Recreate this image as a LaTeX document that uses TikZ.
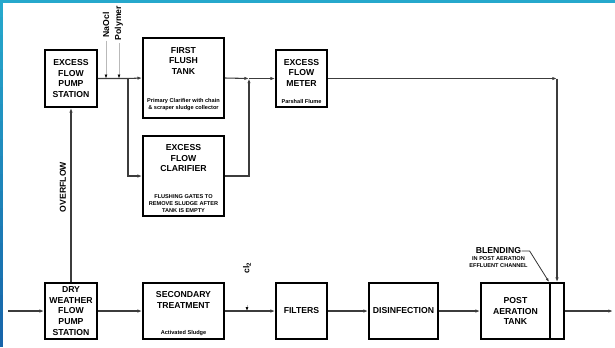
\documentclass[tikz,border=0pt]{standalone}
\usepackage{fontspec}
\setmainfont{Liberation Sans}
\usetikzlibrary{arrows.meta,positioning}

\definecolor{frametop}{RGB}{38,168,204}
\definecolor{framebot}{RGB}{22,98,168}
\definecolor{pipe}{RGB}{60,60,60}

\newcommand\flowtitle{\fontsize{6.5}{8}\selectfont\bfseries}
\newcommand\flownote{\fontsize{4.2}{5.3}\selectfont\bfseries}

\tikzset{every picture/.style={line width=0.75pt}}
\tikzset{
  box/.style={draw=black, line width=1.3pt, inner sep=0pt, align=center, font=\flowtitle},
  title/.style={inner sep=0pt, align=center, font=\flowtitle},
  note/.style={inner sep=0pt, align=center, font=\flownote},
  flow/.style={draw=pipe, line width=0.8pt, -{Latex[length=3.5pt,width=2.5pt]}},
  dose/.style={draw=gray!55, line width=0.5pt, shorten <=2pt, -{Latex[length=3pt,width=2.2pt,color=black]}},
  lead/.style={draw=black!80, line width=0.6pt, -{Latex[length=3pt,width=2pt]}}
}

\begin{document}
\begin{tikzpicture}[x=0.75pt,y=0.75pt,yscale=-1,xscale=1]
\useasboundingbox (0,0) rectangle (615,347);

%Shape: Frame
\fill[frametop] (0,0) rectangle (615,2.5);
\foreach \i in {0,...,19}{
  \pgfmathtruncatemacro\p{\i*5}
  \fill[framebot!\p!frametop] (0,\i*17.35) rectangle (2.5,\i*17.35+17.6);
}

%Shape: Boxes, excess flow line
\node[box, minimum width=39pt, minimum height=42.75pt] (efps) at (71,78.5) {EXCESS\\FLOW\\PUMP\\STATION};
\node[box, minimum width=60.75pt, minimum height=60pt] (fft) at (183.5,78) {};
\node[box, minimum width=38.25pt, minimum height=42.75pt] (meter) at (301.5,78.5) {};
\node[box, minimum width=60.75pt, minimum height=60pt] (clar) at (183.5,176) {};

%Shape: Boxes, dry weather line
\node[box, minimum width=39pt, minimum height=42pt] (dwfps) at (71,311) {DRY\\WEATHER\\FLOW\\PUMP\\STATION};
\node[box, minimum width=60.75pt, minimum height=42pt] (sec) at (183.5,311) {};
\node[box, minimum width=38.25pt, minimum height=42pt] (filt) at (301.5,311) {FILTERS};
\node[box, minimum width=51.75pt, minimum height=42pt] (dis) at (403.5,311) {DISINFECTION};
\node[box, minimum width=51.75pt, minimum height=42pt] (post) at (515.5,311) {POST\\AERATION\\TANK};
\node[box, minimum width=10.5pt, minimum height=42pt] (chan) at (557,311) {};

% Text Node
\node[title, below=7pt of fft.north] (fftT) {FIRST\\FLUSH\\TANK};
\node[note, above=6pt of fft.south] (fftN) {Primary Clarifier with chain\\\& scraper sludge collector};
\node[title, below=7pt of meter.north] (meterT) {EXCESS\\FLOW\\METER};
\node[note, above=3pt of meter.south] (meterN) {Parshall Flume};
\node[title, below=6.5pt of clar.north] (clarT) {EXCESS\\FLOW\\CLARIFIER};
\node[note, above=3pt of clar.south] (clarN) {FLUSHING GATES TO\\REMOVE SLUDGE AFTER\\TANK IS EMPTY};
\node[title, below=6.5pt of sec.north] (secT) {SECONDARY\\TREATMENT};
\node[note, above=3pt of sec.south] (secN) {Activated Sludge};

% Text Node
\node[title, rotate=90] (naocl) at (106,25) {NaOcl};
\node[title, rotate=90] (poly) at (119,23) {Polymer};
\node[title, rotate=90] (ovf) at (63,187) {OVERFLOW};
\node[title, rotate=90] (cl) at (247,268) {cl\textsubscript{2}};
\node[title] (blend) at (498.5,251) {BLENDING};
\node[note, below=1pt of blend] (blendN) {IN POST AERATION\\EFFLUENT CHANNEL};

% Flow lines
\coordinate (split) at (128,78.5);
\coordinate (join) at (249,78.5);
\coordinate (bend) at (557,78.5);
\coordinate (inlet) at (8,311);
\coordinate (outlet) at (613,311);
\coordinate (clIn) at (247,302);

\draw[flow] (efps.east) -- (split) -- (fft.west);
\draw[flow] (split) |- (clar.west);
\draw[flow] (fft.east) -- (join);
\draw[flow] (clar.east) -| (join);
\draw[flow] (join) -- (meter.west);
\draw[flow] (meter.east) -- (bend);
\draw[flow] (bend) -- (chan.north);
\draw[flow] (dwfps.north) -- (efps.south);

\draw[flow] (inlet) -- (dwfps.west);
\draw[flow] (dwfps.east) -- (sec.west);
\draw[flow] (sec.east) -- (filt.west);
\draw[flow] (filt.east) -- (dis.west);
\draw[flow] (dis.east) -- (post.west);
\draw[flow] (chan.east) -- (outlet);

% Dosing
\draw[dose] (naocl.west) -- (naocl.west |- efps.east);
\draw[dose] (poly.west) -- (poly.west |- efps.east);
\draw[dose] (clIn) -- (clIn |- sec.east);

\draw[lead] (blend.east) -- ++(8,0) -- (chan.north west);

\end{tikzpicture}
\end{document}
